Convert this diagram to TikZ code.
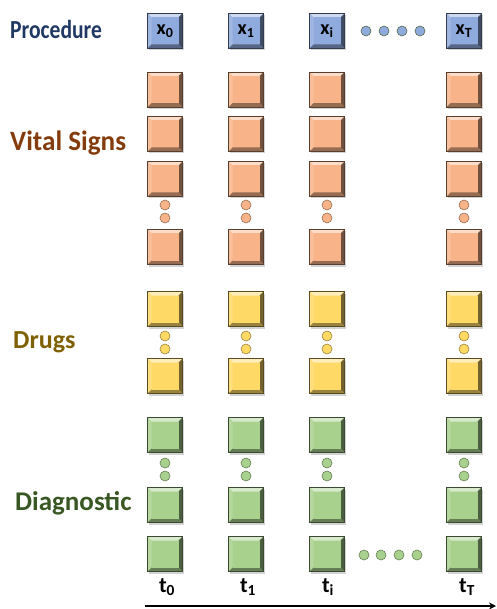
\documentclass[tikz,border=0pt]{standalone}
\usepackage{fontspec}
\usepackage{graphicx}
\setmainfont{Carlito}
\usetikzlibrary{shadows,arrows.meta}
\definecolor{cproc}{RGB}{32,56,100}
\definecolor{cvital}{RGB}{132,60,12}
\definecolor{cdrug}{RGB}{127,96,0}
\definecolor{cdiag}{RGB}{56,87,35}
\definecolor{fblue}{RGB}{143,170,220}
\definecolor{forange}{RGB}{248,180,136}
\definecolor{fyellow}{RGB}{255,217,102}
\definecolor{fgreen}{RGB}{169,209,142}
\tikzset{
  cell/.style={minimum width=35pt, minimum height=35pt, inner sep=0pt,
    fill=#1, draw=#1!35!black, line width=0.7pt,
    drop shadow={shadow xshift=1.5pt, shadow yshift=-2pt, opacity=0.35},
    path picture={
      \fill[#1!45!white] (path picture bounding box.north west) -- (path picture bounding box.north east)
        -- ([shift={(-4pt,-4pt)}]path picture bounding box.north east) -- ([shift={(4pt,-4pt)}]path picture bounding box.north west) -- cycle;
      \fill[#1!85!white] (path picture bounding box.north west) -- ([shift={(4pt,-4pt)}]path picture bounding box.north west)
        -- ([shift={(4pt,4pt)}]path picture bounding box.south west) -- (path picture bounding box.south west) -- cycle;
      \fill[#1!45!black] (path picture bounding box.north east) -- ([shift={(-4pt,-4pt)}]path picture bounding box.north east)
        -- ([shift={(-4pt,4pt)}]path picture bounding box.south east) -- (path picture bounding box.south east) -- cycle;
      \fill[#1!60!black] (path picture bounding box.south west) -- ([shift={(4pt,4pt)}]path picture bounding box.south west)
        -- ([shift={(-4pt,4pt)}]path picture bounding box.south east) -- (path picture bounding box.south east) -- cycle;
      \fill[#1] ([shift={(4pt,-4pt)}]path picture bounding box.north west) rectangle ([shift={(-4pt,4pt)}]path picture bounding box.south east);
    }},
  dotc/.style={circle, minimum size=10pt, inner sep=0pt, fill=#1, draw=#1!60!black, line width=0.6pt},
  rowlabel/.style={anchor=base west, inner sep=0pt, font=\bfseries\fontsize{#1}{#1}\selectfont},
  xlab/.style={font=\bfseries\fontsize{20}{20}\selectfont},
  tlab/.style={font=\bfseries\fontsize{22}{24}\selectfont, anchor=base},
}
\begin{document}
\begin{tikzpicture}[x=1pt,y=-1pt]
\useasboundingbox (0,0) rectangle (496,609);
% row labels
\node[rowlabel=26, text=cproc] (lproc) at (10,39) {\scalebox{0.83}[1]{Procedure}};
\node[rowlabel=28, text=cvital] (lvital) at (10,151) {\scalebox{0.97}[1]{Vital Signs}};
\node[rowlabel=26, text=cdrug] (ldrug) at (13,348) {Drugs};
\node[rowlabel=27, text=cdiag] (ldiag) at (15,510) {Diagnostic};
% columns
\foreach \c/\x in {0/165,1/246,i/327,T/464}{
  \node[cell=fblue, xlab] (p\c) at (\x,31) {x\textsubscript{\c}};
  \node[cell=forange] (v1\c) at (\x,89.5) {};
  \node[cell=forange] (v2\c) at (\x,134) {};
  \node[cell=forange] (v3\c) at (\x,179) {};
  \node[dotc=forange] (vd1\c) at (\x,205) {};
  \node[dotc=forange] (vd2\c) at (\x,218) {};
  \node[cell=forange] (v4\c) at (\x,247) {};
  \node[cell=fyellow] (d1\c) at (\x,309) {};
  \node[dotc=fyellow] (dd1\c) at (\x,336) {};
  \node[dotc=fyellow] (dd2\c) at (\x,349) {};
  \node[cell=fyellow] (d2\c) at (\x,376) {};
  \node[cell=fgreen] (g1\c) at (\x,435) {};
  \node[dotc=fgreen] (gd1\c) at (\x,463) {};
  \node[dotc=fgreen] (gd2\c) at (\x,476) {};
  \node[cell=fgreen] (g2\c) at (\x,505) {};
  \node[cell=fgreen] (g3\c) at (\x,554) {};
}
% horizontal dots
\foreach \k/\x in {1/366,2/384,3/402,4/420}{
  \node[dotc=fblue, draw=fgreen!50!black] (pd\k) at (\x,31) {};
}
\foreach \k/\x in {1/364,2/381,3/399,4/417}{
  \node[dotc=fgreen] (gh\k) at (\x,555) {};
}
% time labels
\node[tlab] (t0) at (167,592) {t\textsubscript{0}};
\node[tlab] (t1) at (248,592) {t\textsubscript{1}};
\node[tlab] (ti) at (328,592) {t\textsubscript{i}};
\node[tlab] (tT) at (467,592) {t\textsubscript{T}};
% axis
\coordinate (a0) at (145,606);
\coordinate (a1) at (496,606);
\draw[line width=2.8pt, -{Stealth[length=7pt,width=7pt]}] (a0) -- (a1);
\end{tikzpicture}
\end{document}
